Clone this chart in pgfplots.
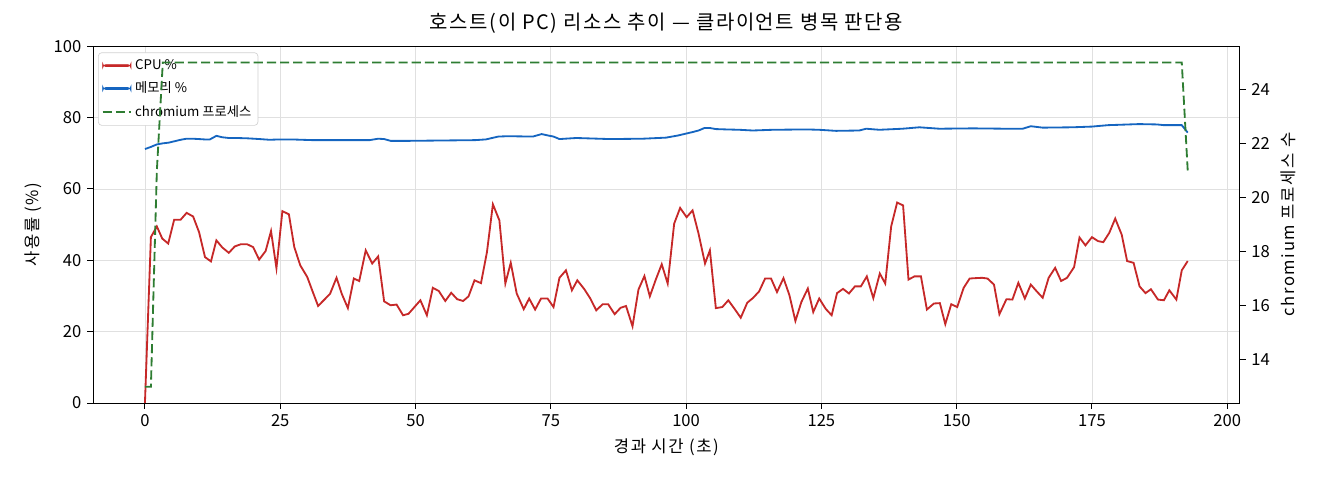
\documentclass[border=0pt]{standalone}
\usepackage{fontspec}
\setmainfont{Noto Sans CJK KR}
\newfontfamily\widetitle{Noto Sans CJK KR}[LetterSpace=8]
\newfontfamily\widelabel{Noto Sans CJK KR}[LetterSpace=10]
\usepackage{pgfplots}
\pgfplotsset{compat=1.18}
\definecolor{cpured}{HTML}{C62828}
\definecolor{memblue}{HTML}{1565C0}
\definecolor{chrgreen}{HTML}{2E7D32}
\pgfplotsset{
  common/.style={
    scale only axis, width=688bp, height=214bp,
    at={(0,0)}, anchor=south west,
    xmin=-9.6, xmax=202.3,
    tick align=outside, major tick length=3.5bp,
    every tick/.style={black, line width=0.6pt},
    axis line style={line width=0.6pt},
    tick label style={font=\fontsize{10}{12}\selectfont},
    label style={font=\widelabel\fontsize{10}{12}\selectfont},
    /pgf/number format/assume math mode=true,
  },
  % solid legend sample drawn as a thin filled bar
  barsample/.style={legend image code/.code={
    \fill[#1] (0cm,-0.6pt) rectangle (0.6cm,0.6pt);}},
}
\begin{document}%
% load every font and size once, outside the picture
\setbox0\hbox{\widetitle\fontsize{12}{14}\selectfont 가A\widelabel\fontsize{10}{12}\selectfont 가A\normalfont\fontsize{8}{9}\selectfont 가A\fontsize{10}{12}\selectfont 0}%
\begin{tikzpicture}
\begin{axis}[common,
    ymin=0, ymax=100, ytick={0,20,...,100},
    xtick={0,25,...,200},
    xtick pos=bottom, ytick pos=left,
    grid=major, major grid style={black!12, line width=0.5pt},
    xlabel={경과 시간 (초)}, ylabel={사용률 (\%)},
    title={호스트(이 PC) 리소스 추이 — 클라이언트 병목 판단용},
    title style={font=\widetitle\fontsize{12}{14}\selectfont, yshift=-2bp},
    legend cell align=left,
    legend style={at={(0.0044,0.983)}, anchor=north west,
      draw=black!18, rounded corners=2pt, fill=white,
      font=\fontsize{8}{9}\selectfont, row sep=2bp, inner sep=2bp},
]
\addlegendimage{barsample=cpured}
\addlegendentry{CPU \%}
\addlegendimage{barsample=memblue}
\addlegendentry{메모리 \%}
\addlegendimage{chrgreen, line width=1.1pt, dash pattern=on 5.5bp off 2.4bp}
\addlegendentry{chromium 프로세스}
\addplot[cpured, line width=1.1pt, forget plot] table {
t v
0 0
1.1 46.5
2.2 49.5
3.2 46.1
4.3 44.7
5.4 51.4
6.6 51.4
7.7 53.3
8.9 52.3
10.0 47.9
11.1 40.9
12.2 39.7
13.2 45.6
14.3 43.6
15.5 42.1
16.6 43.9
17.7 44.5
18.9 44.5
20.0 43.7
21.1 40.2
22.3 42.6
23.3 48.2
24.3 37.8
25.4 53.8
26.6 52.9
27.6 43.7
28.7 38.6
30.0 35.3
31.0 31.2
32.0 27.2
33.1 28.9
34.2 30.6
35.4 35.1
36.4 30.5
37.5 26.6
38.6 34.9
39.6 34.2
40.8 42.8
42.0 39.1
43.1 41.1
44.2 28.5
45.4 27.4
46.5 27.6
47.7 24.6
48.7 25.0
49.8 26.9
50.9 28.8
52.1 24.6
53.2 32.3
54.3 31.4
55.5 28.6
56.6 30.9
57.7 29.1
58.8 28.6
59.8 29.9
60.9 34.4
62.1 33.6
63.2 42.3
64.3 55.7
65.5 51.2
66.6 33.5
67.6 39.3
68.7 30.7
70.0 26.3
71.0 29.3
72.1 26.2
73.2 29.3
74.4 29.3
75.5 26.9
76.6 35.1
77.8 37.2
78.9 31.6
79.9 34.4
81.2 31.9
82.3 29.3
83.4 26.0
84.6 27.7
85.6 27.7
86.8 24.9
87.9 26.7
88.9 27.2
90.1 21.5
91.2 31.8
92.3 35.6
93.3 29.9
94.4 34.6
95.5 38.9
96.6 33.5
97.8 50.3
98.9 54.7
100.1 52.1
101.2 54.0
102.3 47.5
103.5 39.1
104.4 42.8
105.5 26.6
106.7 26.9
107.8 28.8
109.0 26.3
110.1 23.9
111.3 28.1
112.4 29.5
113.5 31.3
114.6 34.9
115.7 34.9
116.8 31.1
118.0 35.0
119.1 30.2
120.2 23.0
121.3 28.3
122.5 32.1
123.5 25.5
124.6 29.3
125.8 26.4
126.9 24.6
127.9 30.8
129.0 32.0
130.1 30.7
131.2 32.7
132.3 32.7
133.4 35.5
134.6 29.4
135.8 36.3
136.8 33.5
137.9 49.5
139.0 56.2
140.1 55.4
141.1 34.6
142.2 35.5
143.4 35.5
144.5 26.2
145.8 27.9
146.9 28.0
147.9 22.1
149.0 27.7
150.1 26.9
151.3 32.3
152.4 34.9
153.4 35.0
154.7 35.1
155.7 34.9
156.9 33.2
157.9 24.9
159.2 29.1
160.3 29.0
161.4 33.7
162.6 29.3
163.7 33.2
164.8 31.3
165.9 29.5
167.0 35.1
168.2 37.9
169.3 34.2
170.4 35.1
171.7 38.1
172.7 46.4
173.8 44.2
175.0 46.5
176.1 45.4
177.1 45.1
178.2 47.7
179.3 51.7
180.5 47.2
181.5 39.8
182.7 39.3
183.8 32.7
184.9 30.8
185.9 31.9
187.2 29.0
188.3 28.8
189.3 31.6
190.6 29.0
191.6 37.2
192.7 39.8
};
\addplot[memblue, line width=1.1pt, forget plot] table {
t v
0 71.2
1.1 71.8
2.2 72.5
3.3 72.8
4.4 73.0
5.5 73.4
6.6 73.8
7.7 74.1
8.8 74.1
10 74.0
11 73.9
12 73.9
13.2 74.9
14.3 74.5
15.5 74.3
17 74.3
19 74.2
21.2 74.0
23 73.8
25 73.9
27 73.9
29 73.8
31 73.7
34 73.7
38 73.7
41.5 73.7
43.1 74.1
44.2 74.0
45.4 73.5
48.9 73.5
55 73.6
61 73.7
63 73.9
65.3 74.7
67 74.8
71.7 74.7
73.3 75.4
74.5 75.0
75.5 74.7
76.6 74.0
79.7 74.3
85.9 74.0
92 74.1
96.3 74.4
98.5 75.0
101.3 76.0
102.3 76.4
103.4 77.1
104.4 77.1
105.5 76.8
107.4 76.7
109.9 76.6
112.3 76.4
116 76.6
122.2 76.7
124.6 76.6
127.7 76.3
132.0 76.4
133.3 76.9
135.7 76.6
140 76.9
143.1 77.3
146.8 76.9
153 77.0
159.1 76.9
162.2 76.9
163.7 77.6
165.9 77.2
171.4 77.3
175 77.5
178 77.9
180 78.0
183.7 78.2
187 78.1
188.3 77.9
191.6 77.9
192.7 75.8
};
\end{axis}
\begin{axis}[common,
    ymin=12.4, ymax=25.6, ytick={14,16,...,24},
    axis x line=none, axis y line*=right,
    ylabel={chromium 프로세스 수},
]
\addplot[chrgreen, line width=1.1pt, dash pattern=on 5.5bp off 2.4bp] table {
t n
0 13
1.1 13
2.2 21
3.3 25
191.6 25
192.7 21
};
\end{axis}
\pgfresetboundingbox
\path[use as bounding box] (-55.8bp,-46.2bp) rectangle (736.2bp,241.8bp);
\end{tikzpicture}%
\end{document}
